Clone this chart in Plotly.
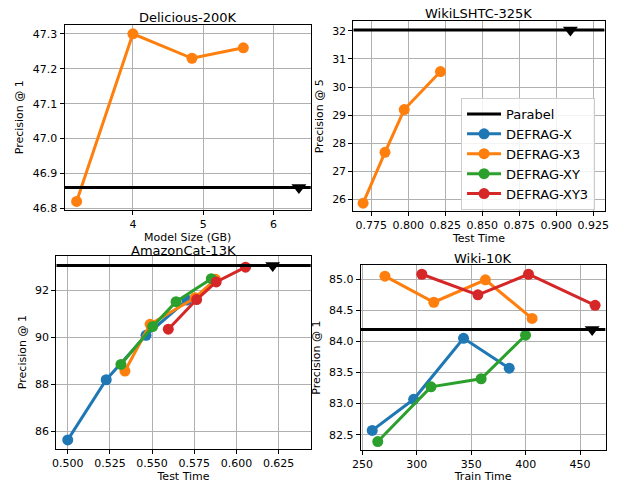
import plotly.graph_objects as go

# ---------------- data ----------------
# Delicious-200K (Model Size vs Precision@1)
del_size_x3 = [3.2, 4.0, 4.84, 5.57]
del_p1_x3 = [46.82, 47.30, 47.23, 47.26]
del_parabel_size = [6.36]
del_parabel_p1 = 46.86

# WikiLSHTC-325K (Test Time vs Precision@5)
lshtc_time_x3 = [0.7695, 0.7843, 0.7973, 0.8218]
lshtc_p5_x3 = [25.87, 27.68, 29.20, 30.55]
lshtc_parabel_time = [0.9096]
lshtc_parabel_p5 = 32.03

# AmazonCat-13K (Test Time vs Precision@1)
amz_time_x = [0.5000, 0.5228, 0.5464, 0.5706]
amz_p1_x = [85.63, 88.19, 90.08, 91.58]
amz_time_x3 = [0.5339, 0.5488, 0.5755, 0.5876]
amz_p1_x3 = [88.56, 90.55, 91.68, 92.46]
amz_time_xy = [0.5315, 0.5503, 0.5642, 0.5851]
amz_p1_xy = [88.84, 90.45, 91.51, 92.49]
amz_time_xy3 = [0.5596, 0.5764, 0.5880, 0.6054]
amz_p1_xy3 = [90.34, 91.60, 92.35, 92.98]
amz_parabel_time = [0.6215]
amz_parabel_p1 = 93.05

# Wiki-10K (Train Time vs Precision@1)
w10_train_x = [259.0, 297.1, 342.9, 384.9]
w10_p1_x = [82.57, 83.07, 84.05, 83.57]
w10_train_x3 = [270.7, 315.6, 363.0, 405.9]
w10_p1_x3 = [85.05, 84.63, 84.99, 84.37]
w10_train_xy = [264.1, 313.0, 359.1, 399.9]
w10_p1_xy = [82.39, 83.27, 83.40, 84.10]
w10_train_xy3 = [304.6, 356.1, 402.6, 463.8]
w10_p1_xy3 = [85.08, 84.75, 85.08, 84.58]
w10_parabel_train = [461.1]
w10_parabel_p1 = 84.19

series_names = ["DEFRAG-X", "DEFRAG-X3", "DEFRAG-XY", "DEFRAG-XY3"]
colors = {"DEFRAG-X": "#1f77b4", "DEFRAG-X3": "#ff7f0e",
          "DEFRAG-XY": "#2ca02c", "DEFRAG-XY3": "#d62728"}

# ---------------- layout of panels ----------------
W, H = 621, 483
FONT = "DejaVu Sans"

panels = [
    dict(key="1", title="Delicious-200K", xt="Model Size (GB)", yt="Precision @ 1",
         box=(56.7, 308.3, 25.0, 212.0), xr=[3.028, 6.53], yr=[46.796, 47.326],
         xdt=1, xt0=4, xfmt="d", ydt=0.1, yt0=46.8, yfmt=".1f", tshift=-2, xso=1),
    dict(key="2", title="WikiLSHTC-325K", xt="Test Time", yt="Precision @ 5",
         box=(351.7, 608.3, 21.7, 213.3), xr=[0.7629, 0.9327], yr=[25.59, 32.33],
         xdt=0.025, xt0=0.775, xfmt=".3f", ydt=1, yt0=26, yfmt="d", tshift=-2, xso=3),
    dict(key="3", title="AmazonCat-13K", xt="Test Time", yt="Precision @ 1",
         box=(48.3, 308.3, 258.3, 453.3), xr=[0.4932, 0.6441], yr=[85.26, 93.47],
         xdt=0.025, xt0=0.5, xfmt=".3f", ydt=2, yt0=86, yfmt="d", tshift=-4, xso=3),
    dict(key="4", title="Wiki-10K", xt="Train Time", yt="Precision @ 1",
         box=(359.3, 609.3, 267.7, 455.0), xr=[248.5, 473.4], yr=[82.25, 85.23],
         xdt=50, xt0=250, xfmt="d", ydt=0.5, yt0=82.5, yfmt=".1f", tshift=-3, xso=3),
]

fig = go.Figure()
shown = set()


def add_series(panel_key, name, xs, ys):
    sfx = "" if panel_key == "1" else panel_key
    show = name not in shown
    shown.add(name)
    fig.add_trace(go.Scatter(
        x=xs, y=ys, mode="lines+markers", name=name,
        line=dict(color=colors[name], width=3),
        marker=dict(color=colors[name], size=11),
        xaxis="x" + sfx, yaxis="y" + sfx, showlegend=show,
        legendgroup=name, legendrank=2 + series_names.index(name)))


def add_parabel(panel, marker_x, yval):
    k = panel["key"]
    sfx = "" if k == "1" else k
    show = "Parabel" not in shown
    shown.add("Parabel")
    fig.add_trace(go.Scatter(
        x=panel["xr"], y=[yval, yval], mode="lines", name="Parabel",
        line=dict(color="black", width=3), xaxis="x" + sfx, yaxis="y" + sfx,
        showlegend=show, legendgroup="Parabel", legendrank=1))
    fig.add_trace(go.Scatter(
        x=marker_x, y=[yval] * len(marker_x), mode="markers",
        marker=dict(symbol="triangle-down", color="black", size=13),
        xaxis="x" + sfx, yaxis="y" + sfx, showlegend=False, hoverinfo="skip"))


# panel 1
add_series("1", "DEFRAG-X3", del_size_x3, del_p1_x3)
add_parabel(panels[0], del_parabel_size, del_parabel_p1)
# panel 2
add_series("2", "DEFRAG-X3", lshtc_time_x3, lshtc_p5_x3)
add_parabel(panels[1], lshtc_parabel_time, lshtc_parabel_p5)
# panel 3
add_series("3", "DEFRAG-X", amz_time_x, amz_p1_x)
add_series("3", "DEFRAG-X3", amz_time_x3, amz_p1_x3)
add_series("3", "DEFRAG-XY", amz_time_xy, amz_p1_xy)
add_series("3", "DEFRAG-XY3", amz_time_xy3, amz_p1_xy3)
add_parabel(panels[2], amz_parabel_time, amz_parabel_p1)
# panel 4
add_series("4", "DEFRAG-X", w10_train_x, w10_p1_x)
add_series("4", "DEFRAG-X3", w10_train_x3, w10_p1_x3)
add_series("4", "DEFRAG-XY", w10_train_xy, w10_p1_xy)
add_series("4", "DEFRAG-XY3", w10_train_xy3, w10_p1_xy3)
add_parabel(panels[3], w10_parabel_train, w10_parabel_p1)

layout = dict(
    width=W, height=H, margin=dict(l=0, r=0, t=0, b=0),
    paper_bgcolor="white", plot_bgcolor="white",
    font=dict(family=FONT, size=11, color="black"),
    showlegend=True,
    legend=dict(x=461.7 / W, y=1 - 99 / H, xanchor="left", yanchor="top",
                bgcolor="rgba(255,255,255,0.85)", bordercolor="#cccccc",
                borderwidth=1, font=dict(size=13, family=FONT),
                itemwidth=34, tracegroupgap=0),
    annotations=[],
)

axis_common = dict(showline=True, linecolor="black", linewidth=1, mirror=True,
                   ticks="outside", ticklen=4, tickcolor="black", tickwidth=1,
                   showgrid=True, gridcolor="#b0b0b0", gridwidth=0.8,
                   zeroline=False, tickfont=dict(size=11, color="black"))

for p in panels:
    k = p["key"]
    sfx = "" if k == "1" else k
    x0, x1, y0, y1 = p["box"]
    xd = [x0 / W, x1 / W]
    yd = [1 - y1 / H, 1 - y0 / H]
    layout["xaxis" + sfx] = dict(axis_common, domain=xd, range=p["xr"],
                                 anchor="y" + sfx, tick0=p["xt0"], dtick=p["xdt"],
                                 tickformat=p["xfmt"],
                                 title=dict(text=p["xt"], font=dict(size=11), standoff=p["xso"]))
    layout["yaxis" + sfx] = dict(axis_common, domain=yd, range=p["yr"],
                                 anchor="x" + sfx, tick0=p["yt0"], dtick=p["ydt"],
                                 tickformat=p["yfmt"],
                                 title=dict(text=p["yt"], font=dict(size=11), standoff=6))
    layout["annotations"].append(dict(
        text=p["title"], xref="paper", yref="paper",
        x=(xd[0] + xd[1]) / 2, y=yd[1], xanchor="center", yanchor="bottom",
        yshift=p["tshift"], showarrow=False,
        font=dict(size=13, family=FONT, color="black")))

fig.update_layout(**layout)
fig.write_html("out.html", config={"displayModeBar": False},
               post_script="document.body.style.margin='0';")
